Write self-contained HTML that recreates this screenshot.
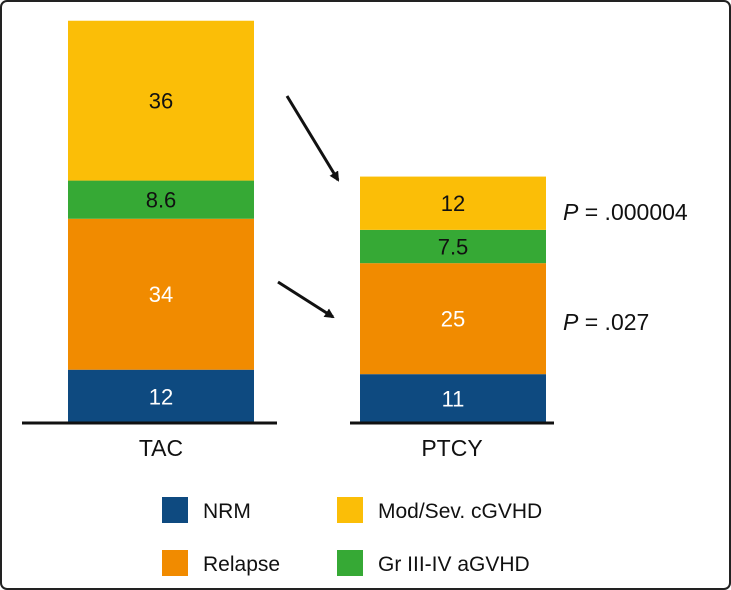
<!DOCTYPE html>
<html><head><meta charset="utf-8"><style>
body{margin:0;background:#fff}
svg{display:block;font-family:"Liberation Sans",Arial,sans-serif}
</style></head><body>
<svg id="c" width="731" height="590" viewBox="0 0 731 590">
<rect x="1" y="1" width="729" height="588" rx="6" fill="#fff" stroke="#222" stroke-width="2"/>
<g id="bars"></g>
<line x1="22" y1="423" x2="277" y2="423" stroke="#111" stroke-width="3"/>
<line x1="350" y1="423" x2="554" y2="423" stroke="#111" stroke-width="3"/>
<text x="161" y="456" font-size="23" text-anchor="middle" fill="#111">TAC</text>
<text x="452" y="456" font-size="23" text-anchor="middle" fill="#111">PTCY</text>
<defs><marker id="ah" markerWidth="10" markerHeight="10" refX="8" refY="5" orient="auto" markerUnits="userSpaceOnUse"><path d="M0,0 L10,5 L0,10 z" fill="#111"/></marker></defs>
<line x1="287" y1="96" x2="338" y2="180" stroke="#111" stroke-width="3" marker-end="url(#ah)"/>
<line x1="278" y1="282" x2="333" y2="317" stroke="#111" stroke-width="3" marker-end="url(#ah)"/>
<text x="563" y="220" font-size="23" fill="#111"><tspan font-style="italic">P</tspan> = .000004</text>
<text x="563" y="330" font-size="23" fill="#111"><tspan font-style="italic">P</tspan> = .027</text>
<g>
<rect x="162" y="497" width="26" height="26" fill="#0e4a80"/>
<text x="203" y="518" font-size="21" fill="#111">NRM</text>
<rect x="337" y="497" width="26" height="26" fill="#fbbe07"/>
<text x="378" y="518" font-size="21" fill="#111">Mod/Sev. cGVHD</text>
<rect x="162" y="550" width="26" height="26" fill="#f18b00"/>
<text x="203" y="571" font-size="21" fill="#111">Relapse</text>
<rect x="337" y="550" width="26" height="26" fill="#36a935"/>
<text x="378" y="571" font-size="21" fill="#111">Gr III-IV aGVHD</text>
</g>
</svg>
<script>
const groups = ["TAC", "PTCY"];
const seriesNames = ["NRM", "Relapse", "aGVHD", "cGVHD"];
const nrm = [12, 11];
const relapse = [34, 25];
const agvhd = [8.6, 7.5];
const cgvhd = [36, 12];
const labels = [["12","34","8.6","36"],["11","25","7.5","12"]];
const colors = ["#0e4a80", "#f18b00", "#36a935", "#fbbe07"];
const textColors = ["#fff", "#fff", "#111", "#111"];
const base = 423, scale = 4.44;
const xLeft = [68, 360], barW = 186;
function y(v){ return base - v*scale; }
const g = document.getElementById('bars');
const ns = "http://www.w3.org/2000/svg";
const series = [nrm, relapse, agvhd, cgvhd];
groups.forEach((grp, i) => {
  let cum = 0;
  series.forEach((s, k) => {
    const v = s[i];
    const y0 = y(cum), y1 = y(cum + v);
    const r = document.createElementNS(ns, 'rect');
    r.setAttribute('x', xLeft[i]); r.setAttribute('y', y1);
    r.setAttribute('width', barW); r.setAttribute('height', y0 - y1);
    r.setAttribute('fill', colors[k]);
    
    
    g.appendChild(r);
    const t = document.createElementNS(ns, 'text');
    t.setAttribute('x', xLeft[i] + barW/2); t.setAttribute('y', (y0 + y1)/2 + 8);
    t.setAttribute('text-anchor', 'middle'); t.setAttribute('font-size', '22');
    t.setAttribute('fill', textColors[k]);
    t.textContent = labels[i][k];
    
    
    g.appendChild(t);
    cum += v;
  });
});
</script>
</body></html>
